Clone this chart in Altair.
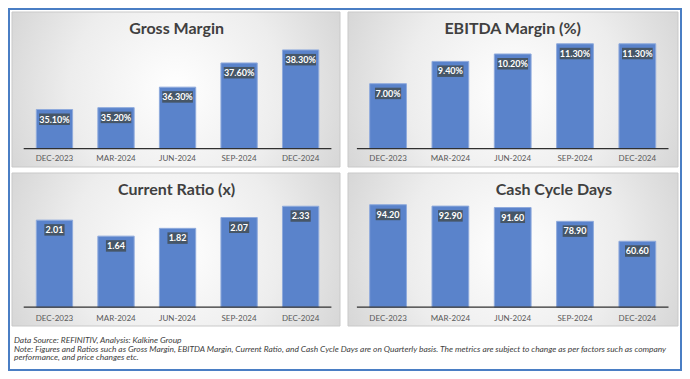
import altair as alt
import pandas as pd

periods = ["DEC-2023", "MAR-2024", "JUN-2024", "SEP-2024", "DEC-2024"]
gross_margin = [35.1, 35.2, 36.3, 37.6, 38.3]
ebitda_margin = [7.0, 9.4, 10.2, 11.3, 11.3]
current_ratio = [2.01, 1.64, 1.82, 2.07, 2.33]
cash_cycle = [94.2, 92.9, 91.6, 78.9, 60.6]

titles = ["Gross Margin", "EBITDA Margin (%)", "Current Ratio (x)", "Cash Cycle Days"]
footnotes = [
    "Data Source: REFINITIV, Analysis: Kalkine Group",
    "Note: Figures and Ratios such as Gross Margin, EBITDA Margin, Current Ratio, and Cash Cycle Days are on Quarterly basis. The metrics are subject to change as per factors such as company",
    "performance, and price changes etc.",
]

W, H = 674, 363
FONT = "Lato"
BAR = "#5A83CB"
BAR_EDGE = "#8FAADC"
BOX = "#465667"
TXT = "#404040"
GRAD = {
    "gradient": "radial",
    "x1": 0.5, "y1": 0.5, "r1": 0,
    "x2": 0.5, "y2": 0.5, "r2": 0.72,
    "stops": [
        {"offset": 0, "color": "#ffffff"},
        {"offset": 0.45, "color": "#ededed"},
        {"offset": 1, "color": "#c6c6c6"},
    ],
}

one = pd.DataFrame({"a": [0]})


def box_width(s):
    digits = sum(c.isdigit() for c in s)
    return 4.5 * digits + 2.2 * s.count(".") + 6.0 * s.count("%") + 4.5


def panel(values, labels, title, box, title_x, title_y, xr, yr, domain, lab_y):
    df = pd.DataFrame({"period": periods, "value": values, "label": labels})
    df["w"] = [box_width(s) for s in labels]
    xs = alt.Scale(domain=periods, range=list(xr), paddingInner=0.41, paddingOuter=0.205)
    ys = alt.Scale(domain=list(domain), range=list(yr), zero=False, nice=False)
    X = alt.X("period:N", scale=xs, axis=None, sort=periods)
    Y = alt.Y("value:Q", scale=ys, axis=None)
    x0, y0, x1, y1 = box
    base = alt.Chart(df)
    bg = alt.Chart(one).mark_rect(fill=GRAD, stroke="#c9c9c9", strokeWidth=1).encode(
        x=alt.value(x0), x2=alt.value(x1), y=alt.value(y0), y2=alt.value(y1)
    )
    ttl = alt.Chart(one).mark_text(
        text=title, font=FONT, fontSize=16, fontWeight="bold", color=TXT, baseline="middle"
    ).encode(x=alt.value(title_x), y=alt.value(title_y))
    bars = base.mark_bar(fill=BAR, stroke=BAR_EDGE, strokeWidth=1).encode(
        x=X, y=Y, y2=alt.datum(domain[0])
    )
    boxes = base.mark_bar(fill=BOX, yOffset=4, y2Offset=15.5).encode(
        x=X, y=Y, y2=alt.Y2("value:Q"), size=alt.Size("w:Q", scale=None, legend=None)
    )
    txt = base.mark_text(
        font=FONT, fontSize=9, fontWeight="bold", color="white", baseline="middle", yOffset=10
    ).encode(x=X, y=Y, text="label:N")
    rule = alt.Chart(one).mark_rule(color="#303030", strokeWidth=1.3).encode(
        x=alt.value(xr[0]), x2=alt.value(xr[1]), y=alt.datum(domain[0], scale=ys)
    )
    xl = base.mark_text(font=FONT, fontSize=8, color="#595959", baseline="middle").encode(
        x=X, y=alt.value(lab_y), text="period:N"
    )
    return alt.layer(bg, ttl, bars, boxes, txt, rule, xl)


fmt_pct = [f"{v:.2f}%" for v in gross_margin]
fmt_eb = [f"{v:.2f}%" for v in ebitda_margin]
fmt_cr = [f"{v:.2f}" for v in current_ratio]
fmt_cc = [f"{v:.2f}" for v in cash_cycle]

L_RANGE = (15.7, 323.4)
R_RANGE = (348.9, 660.5)

p1 = panel(gross_margin, fmt_pct, titles[0], (4, 4, 332, 159), 168.6, 21.2, L_RANGE, (140.6, 28.9), (33, 39), 151.2)
p2 = panel(ebitda_margin, fmt_eb, titles[1], (340, 4, 670, 159), 504.7, 21.2, R_RANGE, (140.6, 29.3), (0, 12), 151.2)
p3 = panel(current_ratio, fmt_cr, titles[2], (4, 165, 332, 318), 168.6, 182.0, L_RANGE, (299.2, 190.9), (0, 2.5), 311.1)
p4 = panel(cash_cycle, fmt_cc, titles[3], (340, 165, 670, 318), 545.9, 182.0, R_RANGE, (299.2, 190.4), (0, 100), 311.1)

frame = alt.Chart(one).mark_rect(fill="white", stroke="#4A7EC4", strokeWidth=2).encode(
    x=alt.value(1), x2=alt.value(W - 1), y=alt.value(1), y2=alt.value(H - 1)
)

notes = []
for line, yy in zip(footnotes, [332.0, 340.5, 349.0]):
    notes.append(
        alt.Chart(one).mark_text(
            text=line, font=FONT, fontSize=8.4, fontStyle="italic", color=TXT,
            align="left", baseline="middle"
        ).encode(x=alt.value(6), y=alt.value(yy))
    )

chart = alt.layer(frame, p1, p2, p3, p4, *notes).resolve_scale(
    x="independent", y="independent"
).properties(
    width=W, height=H, autosize=alt.AutoSizeParams(type="none"), padding=0
).configure_view(stroke=None)

chart.save("out.html", embed_options={"renderer": "svg", "actions": False})
